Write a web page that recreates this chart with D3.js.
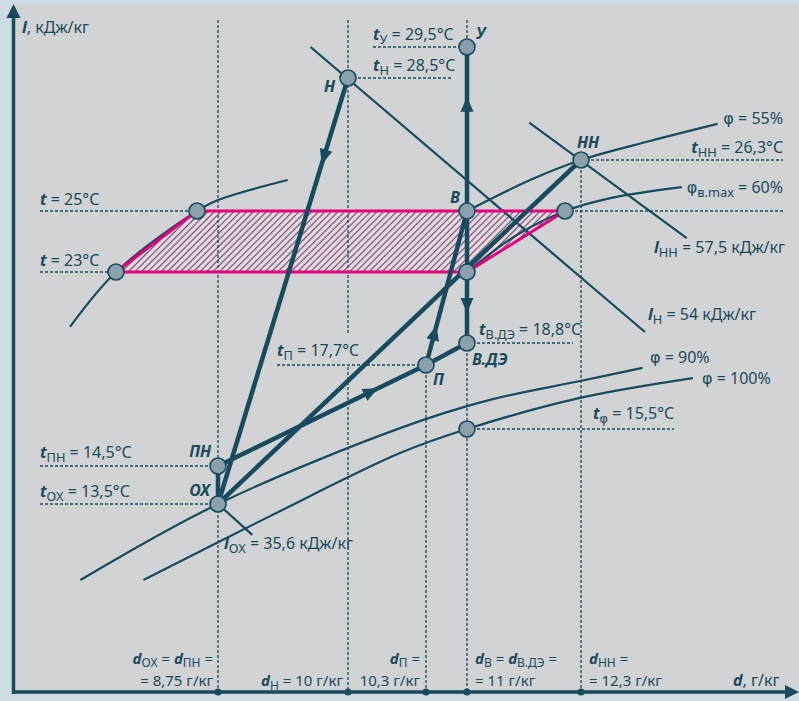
<!DOCTYPE html>
<html>
<head>
<meta charset="utf-8">
<script src="https://cdn.jsdelivr.net/npm/d3@7/dist/d3.min.js"></script>
<style>
  html, body { margin: 0; padding: 0; background: #cedce4; }
  svg { display: block; }
  text { font-family: "Noto Sans", sans-serif; fill: #1b4a5b; }
  .phi { font-family: "DejaVu Sans", sans-serif; }
</style>
</head>
<body>
<svg id="chart" width="799" height="701"></svg>
<script>
// ---- I-d diagram data (schematic) ----
// moisture content marks on the d axis, g/kg
const dMarks = [8.75, 10, 10.3, 11, 12.3];
// temperature levels marked on the diagram, °C
const tLevels = [13.5, 14.5, 15.5, 17.7, 18.8, 23, 25, 26.3, 28.5, 29.5];

// air states: id, moisture content d (g/kg), temperature t (°C)
const stateIds = ['У', 'Н', 'НН', 'В', 'С', 'В.ДЭ', 'П', 'ПН', 'ОХ', 'Р'];
const stateD   = [11, 10, 12.3, 11, 11, 11, 10.3, 8.75, 8.75, 11];
const stateT   = [29.5, 28.5, 26.3, 25, 23, 18.8, 17.7, 14.5, 13.5, 15.5];

// comfort zone corners (d, t)
const zoneD = [7.875, 8.57, 12.118, 11];
const zoneT = [23, 25, 25, 23];

// relative humidity curves (d, t control points)
const phiLeftD = [7.48, 7.875, 8.57, 8.75, 9.42];
const phiLeftT = [19.75, 23, 25, 25.28, 25.79];
const phi55D = [11, 11.72, 12.3, 12.86, 13.41];
const phi55T = [25, 25.79, 26.3, 26.81, 27.27];
const phi60D = [11, 11.55, 12.118, 12.54, 13.12];
const phi60T = [23, 24.18, 25, 25.33, 25.61];
const phi90D = [7.57, 8.75, 10.2, 11.26, 12.29, 12.8];
const phi90T = [11.68, 13.5, 15.53, 16.5, 17.15, 17.6];
const phi100D = [8.11, 9.25, 10.2, 11, 12.29, 13.21];
const phi100T = [11.68, 13.21, 14.85, 15.5, 16.57, 17.25];

// enthalpy lines: value (kJ/kg) and end points
const iNames  = ['Н', 'НН', 'ОХ'];
const iValues = [54, 57.5, 35.6];
const iLineD  = [[9.64, 12.82], [11.71, 13.16], [8.75, 9.08]];
const iLineT  = [[29.5, 19.45], [27.3, 24.11], [13.5, 12.76]];

// air treatment processes
const procFrom = ['Н', 'ОХ', 'ПН', 'П', 'П', 'ОХ', 'В', 'В'];
const procTo   = ['ОХ', 'ПН', 'П', 'В.ДЭ', 'В', 'НН', 'У', 'В.ДЭ'];
const procArrow = [0.2, null, 0.765, null, 0.25, null, 0.69, 0.765];

// ---- drawing ----
const ink = '#174b5d';
const svg = d3.select('#chart');

const x = d3.scaleLinear()
  .domain([7, ...dMarks, 14])
  .range([14, 218, 348, 426, 467, 581, 790]);
const y = d3.scaleLinear()
  .domain([9, ...tLevels, 31])
  .range([692, 504, 466, 429, 365, 343, 272, 211, 160, 78, 47, 18]);

const fmt = v => String(v).replace('.', ',');
const st = id => { const i = stateIds.indexOf(id); return [x(stateD[i]), y(stateT[i])]; };
const tOf = id => stateT[stateIds.indexOf(id)];
const dOf = id => stateD[stateIds.indexOf(id)];

// background panel
svg.append('rect').attr('width', 799).attr('height', 701).attr('fill', '#cedce4');
svg.append('rect').attr('x', 12).attr('y', 4).attr('width', 787).attr('height', 691).attr('fill', '#d2d3d5');

// hatch pattern for comfort zone
const defs = svg.append('defs');
const pat = defs.append('pattern').attr('id', 'hatch')
  .attr('patternUnits', 'userSpaceOnUse').attr('width', 4.6).attr('height', 4.6)
  .attr('patternTransform', 'rotate(45)');
pat.append('rect').attr('width', 4.6).attr('height', 4.6).attr('fill', '#f5d4e2');
pat.append('line').attr('x1', 2.3).attr('x2', 2.3).attr('y1', 0).attr('y2', 4.6)
  .attr('stroke', '#3f5869').attr('stroke-width', 1.1);

const zonePts = zoneD.map((d, i) => [x(d), y(zoneT[i])]);
svg.append('path').attr('d', d3.line()(zonePts) + 'Z').attr('fill', 'url(#hatch)');

// dotted guides
const guides = svg.append('g').attr('stroke', ink).attr('stroke-width', 1.3)
  .attr('stroke-dasharray', '3,2').attr('fill', 'none');
const vg = (xx, y1, y2) => guides.append('line').attr('x1', xx).attr('x2', xx).attr('y1', y1).attr('y2', y2);
const hg = (yy, x1, x2) => guides.append('line').attr('x1', x1).attr('x2', x2).attr('y1', yy).attr('y2', yy);
const axisY = 692, topY = 20;
vg(x(8.75), topY, axisY);
vg(x(10), topY, y(tOf('П')) - 32);
vg(x(10), y(tOf('П')) + 2, axisY);
vg(x(10.3), y(tOf('П')), axisY);
vg(x(11), topY, y(tOf('У')));
vg(x(11), y(tOf('В.ДЭ')), axisY);
vg(x(12.3), y(tOf('НН')), axisY);

hg(y(tOf('У')), 373, x(11));
hg(y(tOf('Н')), x(10), 453);
hg(y(tOf('НН')), x(12.3), 783);
hg(y(25), 40, x(zoneD[1]));
hg(y(25), x(zoneD[2]), 783);
hg(y(23), 40, x(zoneD[0]));
hg(y(tOf('В.ДЭ')), x(11), 573);
hg(y(tOf('П')), 277, x(10.3));
hg(y(tOf('Р')), x(11), 674);
hg(y(tOf('ПН')), 40, x(8.75));
hg(y(tOf('ОХ')), 40, x(8.75));

// humidity curves
const curve = d3.line().curve(d3.curveCatmullRom.alpha(0.5));
const thin = svg.append('g').attr('fill', 'none').attr('stroke', ink).attr('stroke-width', 2.2);
[[phiLeftD, phiLeftT], [phi55D, phi55T], [phi60D, phi60T], [phi90D, phi90T], [phi100D, phi100T]]
  .forEach(([ds, ts]) => thin.append('path').attr('d', curve(ds.map((d, i) => [x(d), y(ts[i])]))));

// enthalpy lines
iLineD.forEach((ds, k) => {
  thin.append('line')
    .attr('x1', x(ds[0])).attr('y1', y(iLineT[k][0]))
    .attr('x2', x(ds[1])).attr('y2', y(iLineT[k][1]));
});

// comfort zone border
svg.append('path').attr('d', d3.line()(zonePts) + 'Z')
  .attr('fill', 'none').attr('stroke', '#e5007e').attr('stroke-width', 3).attr('stroke-linejoin', 'round');

// processes
const thick = svg.append('g');
procFrom.forEach((f, k) => {
  const p0 = st(f), p1 = st(procTo[k]);
  thick.append('line').attr('x1', p0[0]).attr('y1', p0[1]).attr('x2', p1[0]).attr('y2', p1[1])
    .attr('stroke', ink).attr('stroke-width', 4.5);
  if (procArrow[k] != null) {
    const fr = procArrow[k];
    const tx = p0[0] + (p1[0] - p0[0]) * fr, ty = p0[1] + (p1[1] - p0[1]) * fr;
    const ang = Math.atan2(p1[1] - p0[1], p1[0] - p0[0]) * 180 / Math.PI;
    thick.append('path').attr('d', 'M1,0L-14,-6.5L-14,6.5Z')
      .attr('transform', `translate(${tx},${ty}) rotate(${ang})`).attr('fill', ink);
  }
});

// state points
const pointD = [...stateD, zoneD[0], zoneD[1], zoneD[2]];
const pointT = [...stateT, zoneT[0], zoneT[1], zoneT[2]];
svg.append('g').selectAll('circle').data(pointD).join('circle')
  .attr('cx', d => x(d)).attr('cy', (d, i) => y(pointT[i])).attr('r', 8)
  .attr('fill', '#8aa0ab').attr('stroke', ink).attr('stroke-width', 1.6);

// axes
svg.append('line').attr('x1', 13.5).attr('x2', 13.5).attr('y1', 694).attr('y2', 16)
  .attr('stroke', ink).attr('stroke-width', 3.5);
svg.append('path').attr('d', 'M13.5,4L6.5,18L20.5,18Z').attr('fill', ink);
svg.append('line').attr('x1', 12).attr('x2', 786).attr('y1', axisY).attr('y2', axisY)
  .attr('stroke', ink).attr('stroke-width', 3.5);
svg.append('path').attr('d', `M799,${axisY}L785,${axisY - 7}L785,${axisY + 7}Z`).attr('fill', ink);
svg.append('g').selectAll('circle').data(dMarks).join('circle')
  .attr('cx', d => x(d)).attr('cy', axisY).attr('r', 3.6).attr('fill', ink);

// ---- text ----
const V = s => ({ s, b: true, i: true });
const S = s => ({ s, sub: true });
const N = s => ({ s });
const F = s => ({ s, phi: true });

// appends styled runs (bold-italic symbols, subscripts) to a text element
function runs(t, parts, size, subDy = 4) {
  let shift = 0;
  parts.forEach(p => {
    const s = t.append('tspan').text(p.s);
    if (p.b) s.style('font-weight', '700');
    if (p.i) s.style('font-style', 'italic');
    if (p.phi) s.attr('class', 'phi');
    if (p.sub) { s.attr('dy', subDy - shift).style('font-size', (size * 0.8) + 'px'); shift = subDy; }
    else if (shift) { s.attr('dy', -shift); shift = 0; }
  });
  return shift;
}
function rich(xx, yy, parts, anchor = 'start', size = 16) {
  const t = svg.append('text').attr('x', xx).attr('y', yy)
    .attr('text-anchor', anchor).style('font-size', size + 'px');
  runs(t, parts, size);
  return t;
}
// two-line caption in a single text element
function caption(xx, y1, y2, line1, line2, anchor, size) {
  const t = svg.append('text').attr('text-anchor', anchor).style('font-size', size + 'px');
  if (line1) {
    const a = t.append('tspan').attr('x', xx).attr('y', y1);
    runs(a, line1, size, 2.5);
  }
  const b = t.append('tspan').attr('x', xx).attr('y', y2);
  runs(b, line2, size);
  return t;
}

// axis titles
rich(22, 33, [V('l'), N(', кДж/кг')]);
rich(733, 686, [V('d'), N(', г/кг')]);

// temperature labels
rich(373, y(tOf('У')) - 7, [V('t'), S('У'), N(` = ${fmt(tOf('У'))}°C`)]);
rich(373, y(tOf('Н')) - 7, [V('t'), S('Н'), N(` = ${fmt(tOf('Н'))}°C`)]);
rich(783, y(tOf('НН')) - 7, [V('t'), S('НН'), N(` = ${fmt(tOf('НН'))}°C`)], 'end');
rich(40, y(25) - 6, [V('t'), N(` = ${fmt(25)}°C`)]);
rich(40, y(23) - 6, [V('t'), N(` = ${fmt(23)}°C`)]);
rich(479, y(tOf('В.ДЭ')) - 8, [V('t'), S('В.ДЭ'), N(` = ${fmt(tOf('В.ДЭ'))}°C`)]);
rich(277, y(tOf('П')) - 9, [V('t'), S('П'), N(` = ${fmt(tOf('П'))}°C`)]);
rich(593, y(tOf('Р')) - 10, [V('t'), { s: 'φ', sub: true, phi: true }, N(` = ${fmt(tOf('Р'))}°C`)]);
rich(40, y(tOf('ПН')) - 8, [V('t'), S('ПН'), N(` = ${fmt(tOf('ПН'))}°C`)]);
rich(40, y(tOf('ОХ')) - 7, [V('t'), S('ОХ'), N(` = ${fmt(tOf('ОХ'))}°C`)]);

// humidity labels
rich(783, 124, [F('φ'), N(' = 55%')], 'end');
rich(783, 193, [F('φ'), S('в.max'), N(' = 60%')], 'end');
rich(650, 363, [F('φ'), N(' = 90%')]);
rich(702, 384, [F('φ'), N(' = 100%')]);

// enthalpy labels
rich(648, 320, [V('l'), S(iNames[0]), N(` = ${fmt(iValues[0])} кДж/кг`)]);
rich(785, 253, [V('l'), S(iNames[1]), N(` = ${fmt(iValues[1])} кДж/кг`)], 'end');
rich(224, 549, [V('l'), S(iNames[2]), N(` = ${fmt(iValues[2])} кДж/кг`)]);

// state names
const nameStyle = (t) => t.style('font-weight', '700').style('font-style', 'italic');
nameStyle(rich(476, 39, [N('У')]));
nameStyle(rich(324, 92, [N('Н')]));
nameStyle(rich(577, 148, [N('НН')]));
nameStyle(rich(450, 203, [N('В')]));
nameStyle(rich(472, 365, [N('В.ДЭ')]));
nameStyle(rich(433, 385, [N('П')]));
nameStyle(rich(211, 457, [N('ПН')], 'end'));
nameStyle(rich(210, 496, [N('ОХ')], 'end'));

// d axis captions
const l1 = 664, l2 = 686, cap = 15;
caption(x(8.75) - 5, l1, l2, [V('d'), S('ОХ'), N(' = '), V('d'), S('ПН'), N(' =')],
  [N(`= ${fmt(dOf('ОХ'))} г/кг`)], 'end', cap);
caption(x(10) - 5, l1, l2, null, [V('d'), S('Н'), N(` = ${fmt(dOf('Н'))} г/кг`)], 'end', cap);
caption(x(10.3) - 6, l1, l2, [V('d'), S('П'), N(' =')], [N(`${fmt(dOf('П'))} г/кг`)], 'end', cap);
caption(x(11) + 8, l1, l2, [V('d'), S('В'), N(' = '), V('d'), S('В.ДЭ'), N(' =')],
  [N(`= ${fmt(dOf('В'))} г/кг`)], 'start', cap);
caption(x(12.3) + 8, l1, l2, [V('d'), S('НН'), N(' =')], [N(`= ${fmt(dOf('НН'))} г/кг`)], 'start', cap);
</script>
</body>
</html>
